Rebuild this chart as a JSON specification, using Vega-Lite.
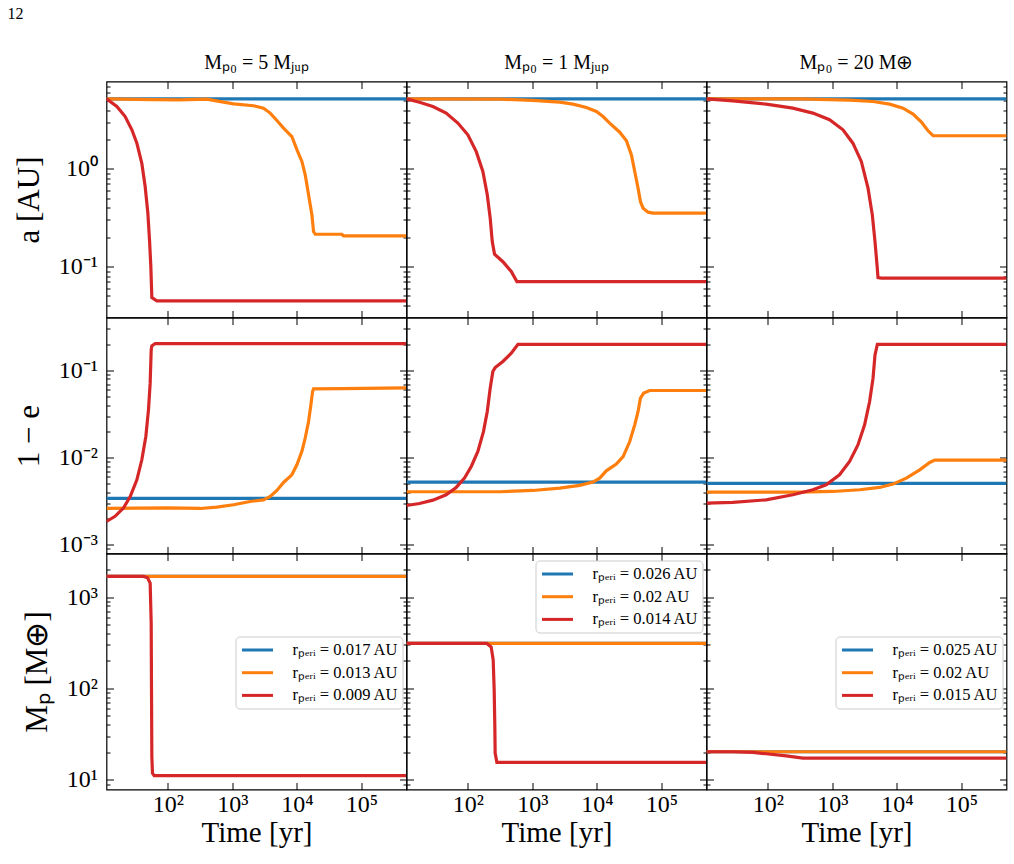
{
  "$schema": "https://vega.github.io/schema/vega-lite/v6.json",
  "autosize": {"type": "none"},
  "padding": {"left": 106.5, "top": 81.5, "right": 907.5, "bottom": 782.5},
  "background": "white",
  "title": {"text": "12", "anchor": "start", "frame": "group", "fontSize": 16, "dx": -99, "offset": 30},
  "datasets": {
    "a1": [
      {"s": "rₚₑᵣᵢ = 0.017 AU", "t": 11.2, "v": 5.2}, {"s": "rₚₑᵣᵢ = 0.017 AU", "t": 500000, "v": 5.2},
      {"s": "rₚₑᵣᵢ = 0.013 AU", "t": 11.2, "v": 5.2}, {"s": "rₚₑᵣᵢ = 0.013 AU", "t": 60, "v": 5.12},
      {"s": "rₚₑᵣᵢ = 0.013 AU", "t": 150, "v": 5.08}, {"s": "rₚₑᵣᵢ = 0.013 AU", "t": 400, "v": 5.17},
      {"s": "rₚₑᵣᵢ = 0.013 AU", "t": 1040, "v": 4.63}, {"s": "rₚₑᵣᵢ = 0.013 AU", "t": 2130, "v": 4.42},
      {"s": "rₚₑᵣᵢ = 0.013 AU", "t": 3040, "v": 4.18}, {"s": "rₚₑᵣᵢ = 0.013 AU", "t": 3860, "v": 3.72},
      {"s": "rₚₑᵣᵢ = 0.013 AU", "t": 4900, "v": 3.12}, {"s": "rₚₑᵣᵢ = 0.013 AU", "t": 6210, "v": 2.61},
      {"s": "rₚₑᵣᵢ = 0.013 AU", "t": 8360, "v": 2.14}, {"s": "rₚₑᵣᵢ = 0.013 AU", "t": 10000, "v": 1.57},
      {"s": "rₚₑᵣᵢ = 0.013 AU", "t": 11960, "v": 1.19}, {"s": "rₚₑᵣᵢ = 0.013 AU", "t": 13460, "v": 0.868},
      {"s": "rₚₑᵣᵢ = 0.013 AU", "t": 15170, "v": 0.542}, {"s": "rₚₑᵣᵢ = 0.013 AU", "t": 17100, "v": 0.338},
      {"s": "rₚₑᵣᵢ = 0.013 AU", "t": 18130, "v": 0.228}, {"s": "rₚₑᵣᵢ = 0.013 AU", "t": 19240, "v": 0.214},
      {"s": "rₚₑᵣᵢ = 0.013 AU", "t": 49860, "v": 0.214}, {"s": "rₚₑᵣᵢ = 0.013 AU", "t": 52950, "v": 0.206},
      {"s": "rₚₑᵣᵢ = 0.013 AU", "t": 500000, "v": 0.206},
      {"s": "rₚₑᵣᵢ = 0.009 AU", "t": 11.2, "v": 5.2}, {"s": "rₚₑᵣᵢ = 0.009 AU", "t": 16.2, "v": 4.35},
      {"s": "rₚₑᵣᵢ = 0.009 AU", "t": 21.8, "v": 3.43}, {"s": "rₚₑᵣᵢ = 0.009 AU", "t": 27.7, "v": 2.51},
      {"s": "rₚₑᵣᵢ = 0.009 AU", "t": 33.1, "v": 1.83}, {"s": "rₚₑᵣᵢ = 0.009 AU", "t": 39.5, "v": 1.14},
      {"s": "rₚₑᵣᵢ = 0.009 AU", "t": 44.5, "v": 0.659}, {"s": "rₚₑᵣᵢ = 0.009 AU", "t": 49, "v": 0.352},
      {"s": "rₚₑᵣᵢ = 0.009 AU", "t": 52, "v": 0.187}, {"s": "rₚₑᵣᵢ = 0.009 AU", "t": 54.5, "v": 0.1},
      {"s": "rₚₑᵣᵢ = 0.009 AU", "t": 56.5, "v": 0.0482}, {"s": "rₚₑᵣᵢ = 0.009 AU", "t": 67.5, "v": 0.0445},
      {"s": "rₚₑᵣᵢ = 0.009 AU", "t": 500000, "v": 0.0445}
    ],
    "e1": [
      {"s": "rₚₑᵣᵢ = 0.017 AU", "t": 11.2, "v": 0.0034}, {"s": "rₚₑᵣᵢ = 0.017 AU", "t": 500000, "v": 0.0034},
      {"s": "rₚₑᵣᵢ = 0.013 AU", "t": 11.2, "v": 0.00261}, {"s": "rₚₑᵣᵢ = 0.013 AU", "t": 96.5, "v": 0.00265},
      {"s": "rₚₑᵣᵢ = 0.013 AU", "t": 317, "v": 0.00261}, {"s": "rₚₑᵣᵢ = 0.013 AU", "t": 575, "v": 0.0027},
      {"s": "rₚₑᵣᵢ = 0.013 AU", "t": 1042, "v": 0.00288}, {"s": "rₚₑᵣᵢ = 0.013 AU", "t": 1890, "v": 0.00314},
      {"s": "rₚₑᵣᵢ = 0.013 AU", "t": 3040, "v": 0.00328}, {"s": "rₚₑᵣᵢ = 0.013 AU", "t": 3860, "v": 0.00358},
      {"s": "rₚₑᵣᵢ = 0.013 AU", "t": 4900, "v": 0.0042}, {"s": "rₚₑᵣᵢ = 0.013 AU", "t": 6210, "v": 0.00519},
      {"s": "rₚₑᵣᵢ = 0.013 AU", "t": 8360, "v": 0.00635}, {"s": "rₚₑᵣᵢ = 0.013 AU", "t": 10000, "v": 0.00828},
      {"s": "rₚₑᵣᵢ = 0.013 AU", "t": 11960, "v": 0.0118}, {"s": "rₚₑᵣᵢ = 0.013 AU", "t": 13460, "v": 0.0168},
      {"s": "rₚₑᵣᵢ = 0.013 AU", "t": 15170, "v": 0.026}, {"s": "rₚₑᵣᵢ = 0.013 AU", "t": 16480, "v": 0.0404},
      {"s": "rₚₑᵣᵢ = 0.013 AU", "t": 17500, "v": 0.0574}, {"s": "rₚₑᵣᵢ = 0.013 AU", "t": 18130, "v": 0.0616},
      {"s": "rₚₑᵣᵢ = 0.013 AU", "t": 49860, "v": 0.0621}, {"s": "rₚₑᵣᵢ = 0.013 AU", "t": 500000, "v": 0.0633},
      {"s": "rₚₑᵣᵢ = 0.009 AU", "t": 11.2, "v": 0.00185}, {"s": "rₚₑᵣᵢ = 0.009 AU", "t": 15.2, "v": 0.00212},
      {"s": "rₚₑᵣᵢ = 0.009 AU", "t": 20.5, "v": 0.00264}, {"s": "rₚₑᵣᵢ = 0.009 AU", "t": 26.1, "v": 0.00358},
      {"s": "rₚₑᵣᵢ = 0.009 AU", "t": 33.1, "v": 0.00557}, {"s": "rₚₑᵣᵢ = 0.009 AU", "t": 39.5, "v": 0.00945},
      {"s": "rₚₑᵣᵢ = 0.009 AU", "t": 45.6, "v": 0.0175}, {"s": "rₚₑᵣᵢ = 0.009 AU", "t": 50.1, "v": 0.0354},
      {"s": "rₚₑᵣᵢ = 0.009 AU", "t": 53.2, "v": 0.0716}, {"s": "rₚₑᵣᵢ = 0.009 AU", "t": 55.2, "v": 0.172},
      {"s": "rₚₑᵣᵢ = 0.009 AU", "t": 56.5, "v": 0.192}, {"s": "rₚₑᵣᵢ = 0.009 AU", "t": 63.6, "v": 0.204},
      {"s": "rₚₑᵣᵢ = 0.009 AU", "t": 500000, "v": 0.204}
    ],
    "m1": [
      {"s": "rₚₑᵣᵢ = 0.017 AU", "t": 11.2, "v": 1683}, {"s": "rₚₑᵣᵢ = 0.017 AU", "t": 500000, "v": 1683},
      {"s": "rₚₑᵣᵢ = 0.013 AU", "t": 11.2, "v": 1683}, {"s": "rₚₑᵣᵢ = 0.013 AU", "t": 500000, "v": 1683},
      {"s": "rₚₑᵣᵢ = 0.009 AU", "t": 11.2, "v": 1683}, {"s": "rₚₑᵣᵢ = 0.009 AU", "t": 42, "v": 1683},
      {"s": "rₚₑᵣᵢ = 0.009 AU", "t": 48.4, "v": 1630}, {"s": "rₚₑᵣᵢ = 0.009 AU", "t": 53.2, "v": 1423},
      {"s": "rₚₑᵣᵢ = 0.009 AU", "t": 55.2, "v": 519}, {"s": "rₚₑᵣᵢ = 0.009 AU", "t": 55.8, "v": 96.6},
      {"s": "rₚₑᵣᵢ = 0.009 AU", "t": 56.5, "v": 18}, {"s": "rₚₑᵣᵢ = 0.009 AU", "t": 57.8, "v": 11.8},
      {"s": "rₚₑᵣᵢ = 0.009 AU", "t": 61.4, "v": 11.1}, {"s": "rₚₑᵣᵢ = 0.009 AU", "t": 500000, "v": 11.1}
    ],
    "a2": [
      {"s": "rₚₑᵣᵢ = 0.026 AU", "t": 11.2, "v": 5.2}, {"s": "rₚₑᵣᵢ = 0.026 AU", "t": 500000, "v": 5.2},
      {"s": "rₚₑᵣᵢ = 0.02 AU", "t": 11.2, "v": 5.2}, {"s": "rₚₑᵣᵢ = 0.02 AU", "t": 310, "v": 5.17},
      {"s": "rₚₑᵣᵢ = 0.02 AU", "t": 1020, "v": 5.01}, {"s": "rₚₑᵣᵢ = 0.02 AU", "t": 2650, "v": 4.81},
      {"s": "rₚₑᵣᵢ = 0.02 AU", "t": 4270, "v": 4.59}, {"s": "rₚₑᵣᵢ = 0.02 AU", "t": 6870, "v": 4.25},
      {"s": "rₚₑᵣᵢ = 0.02 AU", "t": 9820, "v": 3.86}, {"s": "rₚₑᵣᵢ = 0.02 AU", "t": 12450, "v": 3.43},
      {"s": "rₚₑᵣᵢ = 0.02 AU", "t": 15800, "v": 2.94}, {"s": "rₚₑᵣᵢ = 0.02 AU", "t": 22600, "v": 2.37},
      {"s": "rₚₑᵣᵢ = 0.02 AU", "t": 28700, "v": 1.94}, {"s": "rₚₑᵣᵢ = 0.02 AU", "t": 34300, "v": 1.39},
      {"s": "rₚₑᵣᵢ = 0.02 AU", "t": 38600, "v": 0.939}, {"s": "rₚₑᵣᵢ = 0.02 AU", "t": 43500, "v": 0.634},
      {"s": "rₚₑᵣᵢ = 0.02 AU", "t": 47300, "v": 0.463}, {"s": "rₚₑᵣᵢ = 0.02 AU", "t": 52000, "v": 0.396},
      {"s": "rₚₑᵣᵢ = 0.02 AU", "t": 62200, "v": 0.36}, {"s": "rₚₑᵣᵢ = 0.02 AU", "t": 74300, "v": 0.352},
      {"s": "rₚₑᵣᵢ = 0.02 AU", "t": 500000, "v": 0.352},
      {"s": "rₚₑᵣᵢ = 0.014 AU", "t": 11.2, "v": 5.2}, {"s": "rₚₑᵣᵢ = 0.014 AU", "t": 17.8, "v": 4.81},
      {"s": "rₚₑᵣᵢ = 0.014 AU", "t": 28.7, "v": 4.35}, {"s": "rₚₑᵣᵢ = 0.014 AU", "t": 46.1, "v": 3.72},
      {"s": "rₚₑᵣᵢ = 0.014 AU", "t": 70, "v": 2.94}, {"s": "rₚₑᵣᵢ = 0.014 AU", "t": 100, "v": 2.23},
      {"s": "rₚₑᵣᵢ = 0.014 AU", "t": 135, "v": 1.5}, {"s": "rₚₑᵣᵢ = 0.014 AU", "t": 171, "v": 0.939},
      {"s": "rₚₑᵣᵢ = 0.014 AU", "t": 200, "v": 0.542}, {"s": "rₚₑᵣᵢ = 0.014 AU", "t": 222, "v": 0.313},
      {"s": "rₚₑᵣᵢ = 0.014 AU", "t": 239, "v": 0.18}, {"s": "rₚₑᵣᵢ = 0.014 AU", "t": 259, "v": 0.134},
      {"s": "rₚₑᵣᵢ = 0.014 AU", "t": 349, "v": 0.112}, {"s": "rₚₑᵣᵢ = 0.014 AU", "t": 471, "v": 0.0889},
      {"s": "rₚₑᵣᵢ = 0.014 AU", "t": 576, "v": 0.0702}, {"s": "rₚₑᵣᵢ = 0.014 AU", "t": 500000, "v": 0.0702}
    ],
    "e2": [
      {"s": "rₚₑᵣᵢ = 0.026 AU", "t": 11.2, "v": 0.00524}, {"s": "rₚₑᵣᵢ = 0.026 AU", "t": 500000, "v": 0.00524},
      {"s": "rₚₑᵣᵢ = 0.02 AU", "t": 11.2, "v": 0.00406}, {"s": "rₚₑᵣᵢ = 0.02 AU", "t": 310, "v": 0.00406},
      {"s": "rₚₑᵣᵢ = 0.02 AU", "t": 1020, "v": 0.0042}, {"s": "rₚₑᵣᵢ = 0.02 AU", "t": 2650, "v": 0.00447},
      {"s": "rₚₑᵣᵢ = 0.02 AU", "t": 5410, "v": 0.0048}, {"s": "rₚₑᵣᵢ = 0.02 AU", "t": 8710, "v": 0.00524},
      {"s": "rₚₑᵣᵢ = 0.02 AU", "t": 11050, "v": 0.00582}, {"s": "rₚₑᵣᵢ = 0.02 AU", "t": 14000, "v": 0.00706},
      {"s": "rₚₑᵣᵢ = 0.02 AU", "t": 20000, "v": 0.00842}, {"s": "rₚₑᵣᵢ = 0.02 AU", "t": 25500, "v": 0.0103},
      {"s": "rₚₑᵣᵢ = 0.02 AU", "t": 32300, "v": 0.0153}, {"s": "rₚₑᵣᵢ = 0.02 AU", "t": 38600, "v": 0.0238},
      {"s": "rₚₑᵣᵢ = 0.02 AU", "t": 43500, "v": 0.0339}, {"s": "rₚₑᵣᵢ = 0.02 AU", "t": 47300, "v": 0.0482},
      {"s": "rₚₑᵣᵢ = 0.02 AU", "t": 53200, "v": 0.055}, {"s": "rₚₑᵣᵢ = 0.02 AU", "t": 65900, "v": 0.059},
      {"s": "rₚₑᵣᵢ = 0.02 AU", "t": 500000, "v": 0.059},
      {"s": "rₚₑᵣᵢ = 0.014 AU", "t": 11.2, "v": 0.00282}, {"s": "rₚₑᵣᵢ = 0.014 AU", "t": 17.8, "v": 0.00298},
      {"s": "rₚₑᵣᵢ = 0.014 AU", "t": 28.7, "v": 0.00325}, {"s": "rₚₑᵣᵢ = 0.014 AU", "t": 46.1, "v": 0.00375},
      {"s": "rₚₑᵣᵢ = 0.014 AU", "t": 65.9, "v": 0.00455}, {"s": "rₚₑᵣᵢ = 0.014 AU", "t": 88.7, "v": 0.00582},
      {"s": "rₚₑᵣᵢ = 0.014 AU", "t": 113, "v": 0.00792}, {"s": "rₚₑᵣᵢ = 0.014 AU", "t": 143, "v": 0.0118},
      {"s": "rₚₑᵣᵢ = 0.014 AU", "t": 175, "v": 0.02}, {"s": "rₚₑᵣᵢ = 0.014 AU", "t": 200, "v": 0.0339},
      {"s": "rₚₑᵣᵢ = 0.014 AU", "t": 222, "v": 0.0627}, {"s": "rₚₑᵣᵢ = 0.014 AU", "t": 244, "v": 0.0974},
      {"s": "rₚₑᵣᵢ = 0.014 AU", "t": 265, "v": 0.108}, {"s": "rₚₑᵣᵢ = 0.014 AU", "t": 349, "v": 0.127},
      {"s": "rₚₑᵣᵢ = 0.014 AU", "t": 471, "v": 0.158}, {"s": "rₚₑᵣᵢ = 0.014 AU", "t": 598, "v": 0.2},
      {"s": "rₚₑᵣᵢ = 0.014 AU", "t": 500000, "v": 0.2}
    ],
    "m2": [
      {"s": "rₚₑᵣᵢ = 0.026 AU", "t": 11.2, "v": 311}, {"s": "rₚₑᵣᵢ = 0.026 AU", "t": 500000, "v": 311},
      {"s": "rₚₑᵣᵢ = 0.02 AU", "t": 11.2, "v": 311}, {"s": "rₚₑᵣᵢ = 0.02 AU", "t": 500000, "v": 311},
      {"s": "rₚₑᵣᵢ = 0.014 AU", "t": 11.2, "v": 311}, {"s": "rₚₑᵣᵢ = 0.014 AU", "t": 197, "v": 311},
      {"s": "rₚₑᵣᵢ = 0.014 AU", "t": 230, "v": 284}, {"s": "rₚₑᵣᵢ = 0.014 AU", "t": 247, "v": 206},
      {"s": "rₚₑᵣᵢ = 0.014 AU", "t": 256, "v": 96.6}, {"s": "rₚₑᵣᵢ = 0.014 AU", "t": 262, "v": 38.3},
      {"s": "rₚₑᵣᵢ = 0.014 AU", "t": 265, "v": 19.6}, {"s": "rₚₑᵣᵢ = 0.014 AU", "t": 282, "v": 15.5},
      {"s": "rₚₑᵣᵢ = 0.014 AU", "t": 500000, "v": 15.5}
    ],
    "a3": [
      {"s": "rₚₑᵣᵢ = 0.025 AU", "t": 11.2, "v": 5.2}, {"s": "rₚₑᵣᵢ = 0.025 AU", "t": 500000, "v": 5.2},
      {"s": "rₚₑᵣᵢ = 0.02 AU", "t": 11.2, "v": 5.2}, {"s": "rₚₑᵣᵢ = 0.02 AU", "t": 300, "v": 5.2},
      {"s": "rₚₑᵣᵢ = 0.02 AU", "t": 1850, "v": 5.05}, {"s": "rₚₑᵣᵢ = 0.02 AU", "t": 4270, "v": 4.89},
      {"s": "rₚₑᵣᵢ = 0.02 AU", "t": 7730, "v": 4.59}, {"s": "rₚₑᵣᵢ = 0.02 AU", "t": 12450, "v": 4.18},
      {"s": "rₚₑᵣᵢ = 0.02 AU", "t": 17800, "v": 3.63}, {"s": "rₚₑᵣᵢ = 0.02 AU", "t": 24000, "v": 3.01},
      {"s": "rₚₑᵣᵢ = 0.02 AU", "t": 30400, "v": 2.45}, {"s": "rₚₑᵣᵢ = 0.02 AU", "t": 36400, "v": 2.18},
      {"s": "rₚₑᵣᵢ = 0.02 AU", "t": 500000, "v": 2.18},
      {"s": "rₚₑᵣᵢ = 0.015 AU", "t": 11.2, "v": 5.2}, {"s": "rₚₑᵣᵢ = 0.015 AU", "t": 28.7, "v": 4.97},
      {"s": "rₚₑᵣᵢ = 0.015 AU", "t": 94, "v": 4.59}, {"s": "rₚₑᵣᵢ = 0.015 AU", "t": 244, "v": 4.18},
      {"s": "rₚₑᵣᵢ = 0.015 AU", "t": 499, "v": 3.72}, {"s": "rₚₑᵣᵢ = 0.015 AU", "t": 905, "v": 3.18},
      {"s": "rₚₑᵣᵢ = 0.015 AU", "t": 1460, "v": 2.51}, {"s": "rₚₑᵣᵢ = 0.015 AU", "t": 2080, "v": 1.83},
      {"s": "rₚₑᵣᵢ = 0.015 AU", "t": 2810, "v": 1.19}, {"s": "rₚₑᵣᵢ = 0.015 AU", "t": 3570, "v": 0.634},
      {"s": "rₚₑᵣᵢ = 0.015 AU", "t": 4160, "v": 0.338}, {"s": "rₚₑᵣᵢ = 0.015 AU", "t": 4580, "v": 0.18},
      {"s": "rₚₑᵣᵢ = 0.015 AU", "t": 4920, "v": 0.104}, {"s": "rₚₑᵣᵢ = 0.015 AU", "t": 5100, "v": 0.0771},
      {"s": "rₚₑᵣᵢ = 0.015 AU", "t": 5740, "v": 0.076}, {"s": "rₚₑᵣᵢ = 0.015 AU", "t": 500000, "v": 0.076}
    ],
    "e3": [
      {"s": "rₚₑᵣᵢ = 0.025 AU", "t": 11.2, "v": 0.00506}, {"s": "rₚₑᵣᵢ = 0.025 AU", "t": 500000, "v": 0.00506},
      {"s": "rₚₑᵣᵢ = 0.02 AU", "t": 11.2, "v": 0.00402}, {"s": "rₚₑᵣᵢ = 0.02 AU", "t": 310, "v": 0.00402},
      {"s": "rₚₑᵣᵢ = 0.02 AU", "t": 1020, "v": 0.00409}, {"s": "rₚₑᵣᵢ = 0.02 AU", "t": 2650, "v": 0.00428},
      {"s": "rₚₑᵣᵢ = 0.02 AU", "t": 5410, "v": 0.00455}, {"s": "rₚₑᵣᵢ = 0.02 AU", "t": 8710, "v": 0.00497},
      {"s": "rₚₑᵣᵢ = 0.02 AU", "t": 14000, "v": 0.00582}, {"s": "rₚₑᵣᵢ = 0.02 AU", "t": 22600, "v": 0.00724},
      {"s": "rₚₑᵣᵢ = 0.02 AU", "t": 32300, "v": 0.00881}, {"s": "rₚₑᵣᵢ = 0.02 AU", "t": 38600, "v": 0.00936},
      {"s": "rₚₑᵣᵢ = 0.02 AU", "t": 500000, "v": 0.00936},
      {"s": "rₚₑᵣᵢ = 0.015 AU", "t": 11.2, "v": 0.00301}, {"s": "rₚₑᵣᵢ = 0.015 AU", "t": 28.7, "v": 0.00306},
      {"s": "rₚₑᵣᵢ = 0.015 AU", "t": 94.2, "v": 0.00328}, {"s": "rₚₑᵣᵢ = 0.015 AU", "t": 244, "v": 0.00375},
      {"s": "rₚₑᵣᵢ = 0.015 AU", "t": 499, "v": 0.00428}, {"s": "rₚₑᵣᵢ = 0.015 AU", "t": 803, "v": 0.00488},
      {"s": "rₚₑᵣᵢ = 0.015 AU", "t": 1290, "v": 0.00635}, {"s": "rₚₑᵣᵢ = 0.015 AU", "t": 1850, "v": 0.00903},
      {"s": "rₚₑᵣᵢ = 0.015 AU", "t": 2490, "v": 0.014}, {"s": "rₚₑᵣᵢ = 0.015 AU", "t": 3160, "v": 0.0238},
      {"s": "rₚₑᵣᵢ = 0.015 AU", "t": 3780, "v": 0.0441}, {"s": "rₚₑᵣᵢ = 0.015 AU", "t": 4270, "v": 0.0817},
      {"s": "rₚₑᵣᵢ = 0.015 AU", "t": 4580, "v": 0.151}, {"s": "rₚₑᵣᵢ = 0.015 AU", "t": 4980, "v": 0.2},
      {"s": "rₚₑᵣᵢ = 0.015 AU", "t": 500000, "v": 0.2}
    ],
    "m3": [
      {"s": "rₚₑᵣᵢ = 0.025 AU", "t": 11.2, "v": 20.3}, {"s": "rₚₑᵣᵢ = 0.025 AU", "t": 500000, "v": 20.3},
      {"s": "rₚₑᵣᵢ = 0.02 AU", "t": 11.2, "v": 20.3}, {"s": "rₚₑᵣᵢ = 0.02 AU", "t": 500000, "v": 20.3},
      {"s": "rₚₑᵣᵢ = 0.015 AU", "t": 11.2, "v": 20.3}, {"s": "rₚₑᵣᵢ = 0.015 AU", "t": 28.7, "v": 20.3},
      {"s": "rₚₑᵣᵢ = 0.015 AU", "t": 58.5, "v": 20.0}, {"s": "rₚₑᵣᵢ = 0.015 AU", "t": 94.2, "v": 19.3},
      {"s": "rₚₑᵣᵢ = 0.015 AU", "t": 193, "v": 18.3}, {"s": "rₚₑᵣᵢ = 0.015 AU", "t": 349, "v": 17.3},
      {"s": "rₚₑᵣᵢ = 0.015 AU", "t": 394, "v": 17.3}, {"s": "rₚₑᵣᵢ = 0.015 AU", "t": 500000, "v": 17.3}
    ]
  },
  "columns": 3,
  "spacing": 0,
  "bounds": "flush",
  "concat": [
    {
      "data": {"name": "a1"}, "width": 300, "height": 236,
      "title": {"text": "Mₚ₀ = 5 Mⱼᵤₚ"},
      "layer": [
        {"mark": {"type": "line", "strokeWidth": 3.2, "clip": true},
         "encoding": {
           "x": {"field": "t", "type": "quantitative", "scale": {"type": "log", "domain": [11.2, 500000], "nice": false}, "axis": {"orient": "bottom", "values": [100, 1000, 10000, 100000], "labels": false, "title": null}},
           "y": {"field": "v", "type": "quantitative", "scale": {"type": "log", "domain": [0.0301, 7.83], "nice": false}, "axis": {"orient": "left", "values": [0.1, 1], "labelExpr": "datum.value == 1 ? '10⁰' : '10⁻¹'", "title": "a [AU]"}},
           "color": {"field": "s", "type": "nominal", "scale": {"domain": ["rₚₑᵣᵢ = 0.017 AU", "rₚₑᵣᵢ = 0.013 AU", "rₚₑᵣᵢ = 0.009 AU"], "range": ["#1f77b4", "#ff7f0e", "#d62728"]}, "legend": null}}},
        {"mark": {"type": "point", "opacity": 0},
         "encoding": {
           "x": {"field": "t", "type": "quantitative", "axis": {"orient": "top", "values": [100, 1000, 10000, 100000], "labels": false, "title": null}},
           "y": {"field": "v", "type": "quantitative", "axis": {"orient": "left", "values": [0.04, 0.05, 0.06, 0.07, 0.08, 0.09, 0.2, 0.3, 0.4, 0.5, 0.6, 0.7, 0.8, 0.9, 2, 3, 4, 5, 6, 7], "labels": false, "title": null, "tickSize": 3.5, "offset": -3.5}}}},
        {"mark": {"type": "point", "opacity": 0},
         "encoding": {
           "x": {"field": "t", "type": "quantitative", "axis": null},
           "y": {"field": "v", "type": "quantitative", "axis": {"orient": "right", "values": [0.1, 1], "labels": false, "title": null}}}},
        {"mark": {"type": "point", "opacity": 0},
         "encoding": {
           "x": {"field": "t", "type": "quantitative", "axis": null},
           "y": {"field": "v", "type": "quantitative", "axis": {"orient": "right", "values": [0.04, 0.05, 0.06, 0.07, 0.08, 0.09, 0.2, 0.3, 0.4, 0.5, 0.6, 0.7, 0.8, 0.9, 2, 3, 4, 5, 6, 7], "labels": false, "title": null, "tickSize": 3.5, "offset": -3.5}}}}
      ],
      "resolve": {"axis": {"x": "independent", "y": "independent"}}
    },
    {
      "data": {"name": "a2"}, "width": 300, "height": 236,
      "title": {"text": "Mₚ₀ = 1 Mⱼᵤₚ"},
      "layer": [
        {"mark": {"type": "line", "strokeWidth": 3.2, "clip": true},
         "encoding": {
           "x": {"field": "t", "type": "quantitative", "scale": {"type": "log", "domain": [11.2, 500000], "nice": false}, "axis": {"orient": "bottom", "values": [100, 1000, 10000, 100000], "labels": false, "title": null}},
           "y": {"field": "v", "type": "quantitative", "scale": {"type": "log", "domain": [0.0301, 7.83], "nice": false}, "axis": {"orient": "left", "values": [0.1, 1], "labels": false, "title": null}},
           "color": {"field": "s", "type": "nominal", "scale": {"domain": ["rₚₑᵣᵢ = 0.026 AU", "rₚₑᵣᵢ = 0.02 AU", "rₚₑᵣᵢ = 0.014 AU"], "range": ["#1f77b4", "#ff7f0e", "#d62728"]}, "legend": null}}},
        {"mark": {"type": "point", "opacity": 0},
         "encoding": {
           "x": {"field": "t", "type": "quantitative", "axis": {"orient": "top", "values": [100, 1000, 10000, 100000], "labels": false, "title": null}},
           "y": {"field": "v", "type": "quantitative", "axis": {"orient": "left", "values": [0.04, 0.05, 0.06, 0.07, 0.08, 0.09, 0.2, 0.3, 0.4, 0.5, 0.6, 0.7, 0.8, 0.9, 2, 3, 4, 5, 6, 7], "labels": false, "title": null, "tickSize": 3.5, "offset": -3.5}}}},
        {"mark": {"type": "point", "opacity": 0},
         "encoding": {
           "x": {"field": "t", "type": "quantitative", "axis": null},
           "y": {"field": "v", "type": "quantitative", "axis": {"orient": "right", "values": [0.1, 1], "labels": false, "title": null}}}},
        {"mark": {"type": "point", "opacity": 0},
         "encoding": {
           "x": {"field": "t", "type": "quantitative", "axis": null},
           "y": {"field": "v", "type": "quantitative", "axis": {"orient": "right", "values": [0.04, 0.05, 0.06, 0.07, 0.08, 0.09, 0.2, 0.3, 0.4, 0.5, 0.6, 0.7, 0.8, 0.9, 2, 3, 4, 5, 6, 7], "labels": false, "title": null, "tickSize": 3.5, "offset": -3.5}}}}
      ],
      "resolve": {"axis": {"x": "independent", "y": "independent"}}
    },
    {
      "data": {"name": "a3"}, "width": 300, "height": 236,
      "title": {"text": "Mₚ₀ = 20 M⊕"},
      "layer": [
        {"mark": {"type": "line", "strokeWidth": 3.2, "clip": true},
         "encoding": {
           "x": {"field": "t", "type": "quantitative", "scale": {"type": "log", "domain": [11.2, 500000], "nice": false}, "axis": {"orient": "bottom", "values": [100, 1000, 10000, 100000], "labels": false, "title": null}},
           "y": {"field": "v", "type": "quantitative", "scale": {"type": "log", "domain": [0.0301, 7.83], "nice": false}, "axis": {"orient": "left", "values": [0.1, 1], "labels": false, "title": null}},
           "color": {"field": "s", "type": "nominal", "scale": {"domain": ["rₚₑᵣᵢ = 0.025 AU", "rₚₑᵣᵢ = 0.02 AU", "rₚₑᵣᵢ = 0.015 AU"], "range": ["#1f77b4", "#ff7f0e", "#d62728"]}, "legend": null}}},
        {"mark": {"type": "point", "opacity": 0},
         "encoding": {
           "x": {"field": "t", "type": "quantitative", "axis": {"orient": "top", "values": [100, 1000, 10000, 100000], "labels": false, "title": null}},
           "y": {"field": "v", "type": "quantitative", "axis": {"orient": "left", "values": [0.04, 0.05, 0.06, 0.07, 0.08, 0.09, 0.2, 0.3, 0.4, 0.5, 0.6, 0.7, 0.8, 0.9, 2, 3, 4, 5, 6, 7], "labels": false, "title": null, "tickSize": 3.5, "offset": -3.5}}}},
        {"mark": {"type": "point", "opacity": 0},
         "encoding": {
           "x": {"field": "t", "type": "quantitative", "axis": null},
           "y": {"field": "v", "type": "quantitative", "axis": {"orient": "right", "values": [0.1, 1], "labels": false, "title": null}}}},
        {"mark": {"type": "point", "opacity": 0},
         "encoding": {
           "x": {"field": "t", "type": "quantitative", "axis": null},
           "y": {"field": "v", "type": "quantitative", "axis": {"orient": "right", "values": [0.04, 0.05, 0.06, 0.07, 0.08, 0.09, 0.2, 0.3, 0.4, 0.5, 0.6, 0.7, 0.8, 0.9, 2, 3, 4, 5, 6, 7], "labels": false, "title": null, "tickSize": 3.5, "offset": -3.5}}}}
      ],
      "resolve": {"axis": {"x": "independent", "y": "independent"}}
    },
    {
      "data": {"name": "e1"}, "width": 300, "height": 236,
      "layer": [
        {"mark": {"type": "line", "strokeWidth": 3.2, "clip": true},
         "encoding": {
           "x": {"field": "t", "type": "quantitative", "scale": {"type": "log", "domain": [11.2, 500000], "nice": false}, "axis": {"orient": "bottom", "values": [100, 1000, 10000, 100000], "labels": false, "title": null}},
           "y": {"field": "v", "type": "quantitative", "scale": {"type": "log", "domain": [0.000794, 0.406], "nice": false}, "axis": {"orient": "left", "values": [0.001, 0.01, 0.1], "labelExpr": "datum.value == 0.1 ? '10⁻¹' : datum.value == 0.01 ? '10⁻²' : '10⁻³'", "title": "1 − e"}},
           "color": {"field": "s", "type": "nominal", "scale": {"domain": ["rₚₑᵣᵢ = 0.017 AU", "rₚₑᵣᵢ = 0.013 AU", "rₚₑᵣᵢ = 0.009 AU"], "range": ["#1f77b4", "#ff7f0e", "#d62728"]}, "legend": null}}},
        {"mark": {"type": "point", "opacity": 0},
         "encoding": {
           "x": {"field": "t", "type": "quantitative", "axis": {"orient": "top", "values": [100, 1000, 10000, 100000], "labels": false, "title": null}},
           "y": {"field": "v", "type": "quantitative", "axis": {"orient": "left", "values": [0.0009, 0.002, 0.003, 0.004, 0.005, 0.006, 0.007, 0.008, 0.009, 0.02, 0.03, 0.04, 0.05, 0.06, 0.07, 0.08, 0.09, 0.2, 0.3], "labels": false, "title": null, "tickSize": 3.5, "offset": -3.5}}}},
        {"mark": {"type": "point", "opacity": 0},
         "encoding": {
           "x": {"field": "t", "type": "quantitative", "axis": null},
           "y": {"field": "v", "type": "quantitative", "axis": {"orient": "right", "values": [0.001, 0.01, 0.1], "labels": false, "title": null}}}},
        {"mark": {"type": "point", "opacity": 0},
         "encoding": {
           "x": {"field": "t", "type": "quantitative", "axis": null},
           "y": {"field": "v", "type": "quantitative", "axis": {"orient": "right", "values": [0.0009, 0.002, 0.003, 0.004, 0.005, 0.006, 0.007, 0.008, 0.009, 0.02, 0.03, 0.04, 0.05, 0.06, 0.07, 0.08, 0.09, 0.2, 0.3], "labels": false, "title": null, "tickSize": 3.5, "offset": -3.5}}}}
      ],
      "resolve": {"axis": {"x": "independent", "y": "independent"}}
    },
    {
      "data": {"name": "e2"}, "width": 300, "height": 236,
      "layer": [
        {"mark": {"type": "line", "strokeWidth": 3.2, "clip": true},
         "encoding": {
           "x": {"field": "t", "type": "quantitative", "scale": {"type": "log", "domain": [11.2, 500000], "nice": false}, "axis": {"orient": "bottom", "values": [100, 1000, 10000, 100000], "labels": false, "title": null}},
           "y": {"field": "v", "type": "quantitative", "scale": {"type": "log", "domain": [0.000794, 0.406], "nice": false}, "axis": {"orient": "left", "values": [0.001, 0.01, 0.1], "labels": false, "title": null}},
           "color": {"field": "s", "type": "nominal", "scale": {"domain": ["rₚₑᵣᵢ = 0.026 AU", "rₚₑᵣᵢ = 0.02 AU", "rₚₑᵣᵢ = 0.014 AU"], "range": ["#1f77b4", "#ff7f0e", "#d62728"]}, "legend": null}}},
        {"mark": {"type": "point", "opacity": 0},
         "encoding": {
           "x": {"field": "t", "type": "quantitative", "axis": {"orient": "top", "values": [100, 1000, 10000, 100000], "labels": false, "title": null}},
           "y": {"field": "v", "type": "quantitative", "axis": {"orient": "left", "values": [0.0009, 0.002, 0.003, 0.004, 0.005, 0.006, 0.007, 0.008, 0.009, 0.02, 0.03, 0.04, 0.05, 0.06, 0.07, 0.08, 0.09, 0.2, 0.3], "labels": false, "title": null, "tickSize": 3.5, "offset": -3.5}}}},
        {"mark": {"type": "point", "opacity": 0},
         "encoding": {
           "x": {"field": "t", "type": "quantitative", "axis": null},
           "y": {"field": "v", "type": "quantitative", "axis": {"orient": "right", "values": [0.001, 0.01, 0.1], "labels": false, "title": null}}}},
        {"mark": {"type": "point", "opacity": 0},
         "encoding": {
           "x": {"field": "t", "type": "quantitative", "axis": null},
           "y": {"field": "v", "type": "quantitative", "axis": {"orient": "right", "values": [0.0009, 0.002, 0.003, 0.004, 0.005, 0.006, 0.007, 0.008, 0.009, 0.02, 0.03, 0.04, 0.05, 0.06, 0.07, 0.08, 0.09, 0.2, 0.3], "labels": false, "title": null, "tickSize": 3.5, "offset": -3.5}}}}
      ],
      "resolve": {"axis": {"x": "independent", "y": "independent"}}
    },
    {
      "data": {"name": "e3"}, "width": 300, "height": 236,
      "layer": [
        {"mark": {"type": "line", "strokeWidth": 3.2, "clip": true},
         "encoding": {
           "x": {"field": "t", "type": "quantitative", "scale": {"type": "log", "domain": [11.2, 500000], "nice": false}, "axis": {"orient": "bottom", "values": [100, 1000, 10000, 100000], "labels": false, "title": null}},
           "y": {"field": "v", "type": "quantitative", "scale": {"type": "log", "domain": [0.000794, 0.406], "nice": false}, "axis": {"orient": "left", "values": [0.001, 0.01, 0.1], "labels": false, "title": null}},
           "color": {"field": "s", "type": "nominal", "scale": {"domain": ["rₚₑᵣᵢ = 0.025 AU", "rₚₑᵣᵢ = 0.02 AU", "rₚₑᵣᵢ = 0.015 AU"], "range": ["#1f77b4", "#ff7f0e", "#d62728"]}, "legend": null}}},
        {"mark": {"type": "point", "opacity": 0},
         "encoding": {
           "x": {"field": "t", "type": "quantitative", "axis": {"orient": "top", "values": [100, 1000, 10000, 100000], "labels": false, "title": null}},
           "y": {"field": "v", "type": "quantitative", "axis": {"orient": "left", "values": [0.0009, 0.002, 0.003, 0.004, 0.005, 0.006, 0.007, 0.008, 0.009, 0.02, 0.03, 0.04, 0.05, 0.06, 0.07, 0.08, 0.09, 0.2, 0.3], "labels": false, "title": null, "tickSize": 3.5, "offset": -3.5}}}},
        {"mark": {"type": "point", "opacity": 0},
         "encoding": {
           "x": {"field": "t", "type": "quantitative", "axis": null},
           "y": {"field": "v", "type": "quantitative", "axis": {"orient": "right", "values": [0.001, 0.01, 0.1], "labels": false, "title": null}}}},
        {"mark": {"type": "point", "opacity": 0},
         "encoding": {
           "x": {"field": "t", "type": "quantitative", "axis": null},
           "y": {"field": "v", "type": "quantitative", "axis": {"orient": "right", "values": [0.0009, 0.002, 0.003, 0.004, 0.005, 0.006, 0.007, 0.008, 0.009, 0.02, 0.03, 0.04, 0.05, 0.06, 0.07, 0.08, 0.09, 0.2, 0.3], "labels": false, "title": null, "tickSize": 3.5, "offset": -3.5}}}}
      ],
      "resolve": {"axis": {"x": "independent", "y": "independent"}}
    },
    {
      "data": {"name": "m1"}, "width": 300, "height": 236,
      "layer": [
        {"mark": {"type": "line", "strokeWidth": 3.2, "clip": true},
         "encoding": {
           "x": {"field": "t", "type": "quantitative", "scale": {"type": "log", "domain": [11.2, 500000], "nice": false}, "axis": {"orient": "bottom", "values": [100, 1000, 10000, 100000], "labelExpr": "datum.value == 100 ? '10²' : datum.value == 1000 ? '10³' : datum.value == 10000 ? '10⁴' : '10⁵'", "title": "Time [yr]"}},
           "y": {"field": "v", "type": "quantitative", "scale": {"type": "log", "domain": [7.84, 3000], "nice": false}, "axis": {"orient": "left", "values": [10, 100, 1000], "labelExpr": "datum.value == 1000 ? '10³' : datum.value == 100 ? '10²' : '10¹'", "title": "Mₚ [M⊕]"}},
           "color": {"field": "s", "type": "nominal", "scale": {"domain": ["rₚₑᵣᵢ = 0.017 AU", "rₚₑᵣᵢ = 0.013 AU", "rₚₑᵣᵢ = 0.009 AU"], "range": ["#1f77b4", "#ff7f0e", "#d62728"]}, "legend": {"title": null, "orient": "none", "legendX": 129, "legendY": 83}}}},
        {"mark": {"type": "point", "opacity": 0},
         "encoding": {
           "x": {"field": "t", "type": "quantitative", "axis": {"orient": "top", "values": [100, 1000, 10000, 100000], "labels": false, "title": null}},
           "y": {"field": "v", "type": "quantitative", "axis": {"orient": "left", "values": [9, 20, 30, 40, 50, 60, 70, 80, 90, 200, 300, 400, 500, 600, 700, 800, 900, 2000], "labels": false, "title": null, "tickSize": 3.5, "offset": -3.5}}}},
        {"mark": {"type": "point", "opacity": 0},
         "encoding": {
           "x": {"field": "t", "type": "quantitative", "axis": null},
           "y": {"field": "v", "type": "quantitative", "axis": {"orient": "right", "values": [10, 100, 1000], "labels": false, "title": null}}}},
        {"mark": {"type": "point", "opacity": 0},
         "encoding": {
           "x": {"field": "t", "type": "quantitative", "axis": null},
           "y": {"field": "v", "type": "quantitative", "axis": {"orient": "right", "values": [9, 20, 30, 40, 50, 60, 70, 80, 90, 200, 300, 400, 500, 600, 700, 800, 900, 2000], "labels": false, "title": null, "tickSize": 3.5, "offset": -3.5}}}}
      ],
      "resolve": {"axis": {"x": "independent", "y": "independent"}}
    },
    {
      "data": {"name": "m2"}, "width": 300, "height": 236,
      "layer": [
        {"mark": {"type": "line", "strokeWidth": 3.2, "clip": true},
         "encoding": {
           "x": {"field": "t", "type": "quantitative", "scale": {"type": "log", "domain": [11.2, 500000], "nice": false}, "axis": {"orient": "bottom", "values": [100, 1000, 10000, 100000], "labelExpr": "datum.value == 100 ? '10²' : datum.value == 1000 ? '10³' : datum.value == 10000 ? '10⁴' : '10⁵'", "title": "Time [yr]"}},
           "y": {"field": "v", "type": "quantitative", "scale": {"type": "log", "domain": [7.84, 3000], "nice": false}, "axis": {"orient": "left", "values": [10, 100, 1000], "labels": false, "title": null}},
           "color": {"field": "s", "type": "nominal", "scale": {"domain": ["rₚₑᵣᵢ = 0.026 AU", "rₚₑᵣᵢ = 0.02 AU", "rₚₑᵣᵢ = 0.014 AU"], "range": ["#1f77b4", "#ff7f0e", "#d62728"]}, "legend": {"title": null, "orient": "none", "legendX": 129, "legendY": 7}}}},
        {"mark": {"type": "point", "opacity": 0},
         "encoding": {
           "x": {"field": "t", "type": "quantitative", "axis": {"orient": "top", "values": [100, 1000, 10000, 100000], "labels": false, "title": null}},
           "y": {"field": "v", "type": "quantitative", "axis": {"orient": "left", "values": [9, 20, 30, 40, 50, 60, 70, 80, 90, 200, 300, 400, 500, 600, 700, 800, 900, 2000], "labels": false, "title": null, "tickSize": 3.5, "offset": -3.5}}}},
        {"mark": {"type": "point", "opacity": 0},
         "encoding": {
           "x": {"field": "t", "type": "quantitative", "axis": null},
           "y": {"field": "v", "type": "quantitative", "axis": {"orient": "right", "values": [10, 100, 1000], "labels": false, "title": null}}}},
        {"mark": {"type": "point", "opacity": 0},
         "encoding": {
           "x": {"field": "t", "type": "quantitative", "axis": null},
           "y": {"field": "v", "type": "quantitative", "axis": {"orient": "right", "values": [9, 20, 30, 40, 50, 60, 70, 80, 90, 200, 300, 400, 500, 600, 700, 800, 900, 2000], "labels": false, "title": null, "tickSize": 3.5, "offset": -3.5}}}}
      ],
      "resolve": {"axis": {"x": "independent", "y": "independent"}}
    },
    {
      "data": {"name": "m3"}, "width": 300, "height": 236,
      "layer": [
        {"mark": {"type": "line", "strokeWidth": 3.2, "clip": true},
         "encoding": {
           "x": {"field": "t", "type": "quantitative", "scale": {"type": "log", "domain": [11.2, 500000], "nice": false}, "axis": {"orient": "bottom", "values": [100, 1000, 10000, 100000], "labelExpr": "datum.value == 100 ? '10²' : datum.value == 1000 ? '10³' : datum.value == 10000 ? '10⁴' : '10⁵'", "title": "Time [yr]"}},
           "y": {"field": "v", "type": "quantitative", "scale": {"type": "log", "domain": [7.84, 3000], "nice": false}, "axis": {"orient": "left", "values": [10, 100, 1000], "labels": false, "title": null}},
           "color": {"field": "s", "type": "nominal", "scale": {"domain": ["rₚₑᵣᵢ = 0.025 AU", "rₚₑᵣᵢ = 0.02 AU", "rₚₑᵣᵢ = 0.015 AU"], "range": ["#1f77b4", "#ff7f0e", "#d62728"]}, "legend": {"title": null, "orient": "none", "legendX": 129, "legendY": 83}}}},
        {"mark": {"type": "point", "opacity": 0},
         "encoding": {
           "x": {"field": "t", "type": "quantitative", "axis": {"orient": "top", "values": [100, 1000, 10000, 100000], "labels": false, "title": null}},
           "y": {"field": "v", "type": "quantitative", "axis": {"orient": "left", "values": [9, 20, 30, 40, 50, 60, 70, 80, 90, 200, 300, 400, 500, 600, 700, 800, 900, 2000], "labels": false, "title": null, "tickSize": 3.5, "offset": -3.5}}}},
        {"mark": {"type": "point", "opacity": 0},
         "encoding": {
           "x": {"field": "t", "type": "quantitative", "axis": null},
           "y": {"field": "v", "type": "quantitative", "axis": {"orient": "right", "values": [10, 100, 1000], "labels": false, "title": null}}}},
        {"mark": {"type": "point", "opacity": 0},
         "encoding": {
           "x": {"field": "t", "type": "quantitative", "axis": null},
           "y": {"field": "v", "type": "quantitative", "axis": {"orient": "right", "values": [9, 20, 30, 40, 50, 60, 70, 80, 90, 200, 300, 400, 500, 600, 700, 800, 900, 2000], "labels": false, "title": null, "tickSize": 3.5, "offset": -3.5}}}}
      ],
      "resolve": {"axis": {"x": "independent", "y": "independent"}}
    }
  ],
  "resolve": {
    "scale": {"x": "independent", "y": "independent", "color": "independent"},
    "axis": {"x": "independent", "y": "independent"},
    "legend": {"color": "independent"}
  },
  "config": {
    "font": "Liberation Serif",
    "view": {"stroke": "#000000", "strokeWidth": 1.2},
    "axis": {
      "domain": false, "grid": false, "ticks": true, "tickColor": "#000000", "tickWidth": 1, "tickSize": 7, "offset": -7,
      "labelFont": "Liberation Serif", "labelFontSize": 24, "labelColor": "#000000", "labelPadding": 4,
      "titleFont": "Liberation Serif", "titleFontSize": 29, "titleFontWeight": "normal", "titleColor": "#000000"
    },
    "axisLeft": {"labelPadding": 9, "titlePadding": 13, "titleFontSize": 31},
    "axisBottom": {"labelPadding": 3, "titlePadding": 2},
    "title": {"font": "Liberation Serif", "fontSize": 20, "fontWeight": "normal", "color": "#000000", "offset": 8},
    "legend": {
      "labelFont": "Liberation Serif", "labelFontSize": 16.5, "labelColor": "#000000",
      "symbolType": "M-2,0H2", "symbolStrokeWidth": 3, "symbolSize": 240, "symbolOffset": 8.5, "labelOffset": 25.5,
      "rowPadding": 4.7, "padding": 4, "strokeColor": "#cccccc", "fillColor": "#ffffff", "cornerRadius": 4
    }
  }
}
